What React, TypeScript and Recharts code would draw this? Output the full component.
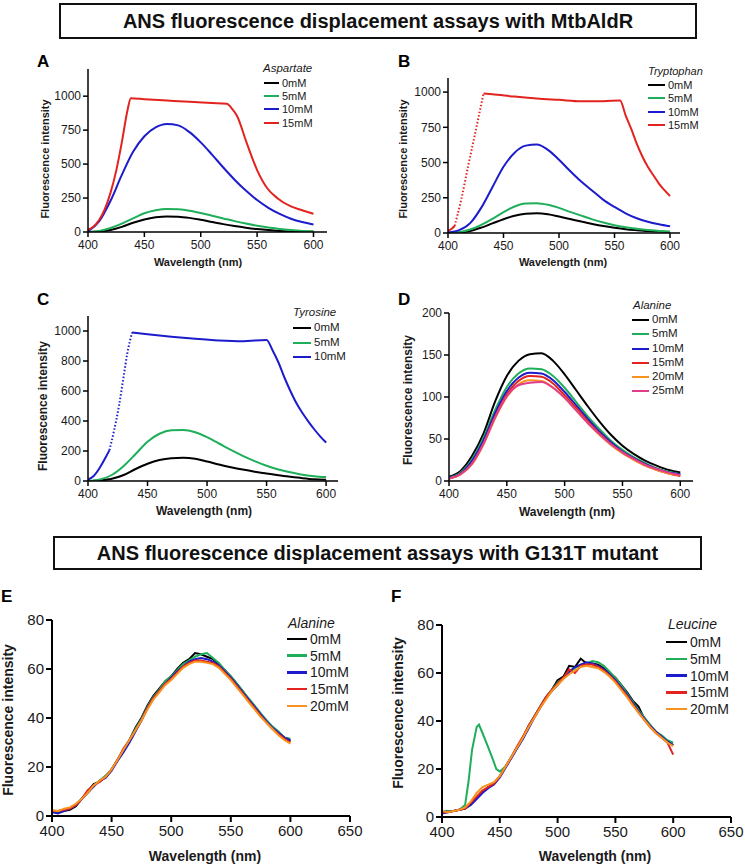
import React from "react";
import { LineChart, Line, XAxis, YAxis } from "recharts";

const font = "'Liberation Sans', Arial, Helvetica, sans-serif";

const BLACK = "#000000";
const GREEN = "#1fae5a";
const BLUE = "#1c1ccc";
const RED = "#e2231f";
const ORANGE = "#f7931e";
const PINK = "#e23c8c";

// wavelength grids (nm)
const wl10 = [400, 410, 420, 430, 440, 450, 460, 470, 480, 490, 500, 510, 520, 530, 540, 550, 560, 570, 580, 590, 600];
const wl5 = [
  400, 405, 410, 415, 420, 425, 430, 435, 440, 445,
  450, 455, 460, 465, 470, 475, 480, 485, 490, 495,
  500, 505, 510, 515, 520, 525, 530, 535, 540, 545,
  550, 555, 560, 565, 570, 575, 580, 585, 590, 595,
  600,
];

// A - Aspartate
const aspBlack = [0, 3, 15, 38, 68, 92, 108, 115, 113, 104, 90, 74, 58, 44, 32, 22, 14, 8, 4, 2, 1];
const aspGreen = [0, 8, 30, 62, 100, 138, 160, 170, 167, 157, 140, 120, 100, 80, 62, 46, 33, 22, 14, 8, 5];
const aspBlue = [5, 80, 230, 420, 590, 705, 770, 795, 785, 735, 660, 570, 475, 385, 305, 235, 178, 133, 98, 73, 55];
const aspRedWl = [400, 405, 410, 415, 420, 425, 430, 435, 438, 450, 470, 490, 510, 523, 528, 532, 541, 550, 559, 568, 580, 590, 600];
const aspRed = [15, 40, 90, 170, 290, 450, 660, 895, 985, 978, 968, 958, 950, 944, 905, 858, 650, 456, 322, 249, 188, 160, 134];

// B - Tryptophan
const trpBlack = [0, 3, 14, 38, 68, 98, 122, 136, 140, 133, 117, 99, 81, 64, 49, 37, 27, 20, 14, 10, 7];
const trpGreen = [0, 6, 25, 58, 100, 148, 188, 209, 211, 200, 178, 150, 123, 97, 74, 55, 41, 30, 21, 15, 10];
const trpBlue = [3, 20, 70, 180, 325, 470, 570, 620, 628, 590, 520, 440, 365, 300, 235, 185, 140, 105, 80, 62, 48];
const trpRedHeadWl = [400, 403, 406];
const trpRedHead = [15, 28, 50];
const trpRedDotWl = [406, 412, 418, 424, 428, 432];
const trpRedDot = [50, 240, 470, 690, 840, 990];
const trpRedTailWl = [432, 440, 460, 480, 500, 520, 540, 555, 560, 565, 570, 575, 580, 585, 590, 595, 600];
const trpRedTail = [990, 985, 968, 955, 945, 935, 935, 941, 835, 740, 634, 545, 470, 410, 351, 304, 262];

// C - Tyrosine
const tyrBlack = [0, 4, 15, 40, 80, 115, 140, 152, 155, 148, 130, 110, 92, 76, 62, 50, 38, 28, 19, 12, 9];
const tyrGreen = [0, 10, 40, 100, 180, 262, 315, 338, 340, 325, 292, 250, 207, 168, 133, 102, 77, 58, 42, 32, 26];
const tyrBlueHeadWl = [400, 405, 410, 415, 418];
const tyrBlueHead = [10, 35, 90, 160, 205];
const tyrBlueDotWl = [418, 422, 426, 430, 433, 437];
const tyrBlueDot = [205, 340, 500, 700, 850, 990];
const tyrBlueTailWl = [437, 450, 470, 490, 510, 530, 550, 555, 560, 565, 570, 575, 580, 585, 590, 595, 600];
const tyrBlueTail = [990, 978, 962, 948, 937, 932, 940, 872, 790, 690, 600, 520, 455, 398, 345, 298, 256];

// D - Alanine (MtbAldR)
const alaBlack = [5, 12, 30, 57, 95, 125, 143, 151, 152, 143, 127, 108, 89, 71, 55, 42, 32, 24, 18, 13, 10];
const alaGreen = [4, 10, 26, 52, 85, 112, 128, 134, 133, 125, 111, 94, 77, 62, 48, 37, 28, 21, 15, 11, 8];
const alaBlue = [4, 9, 24, 49, 81, 107, 123, 129, 128, 120, 106, 90, 74, 59, 46, 35, 27, 20, 14, 10, 8];
const alaRed = [3, 8, 21, 45, 77, 103, 119, 125, 124, 116, 102, 87, 71, 57, 44, 34, 26, 19, 13, 9, 6];
const alaOrange = [3, 8, 20, 44, 75, 100, 115, 120, 119, 111, 99, 84, 69, 55, 43, 33, 25, 18, 13, 9, 7];
const alaPink = [3, 8, 21, 45, 76, 101, 114, 117, 118, 111, 99, 84, 69, 56, 44, 34, 26, 19, 14, 10, 7];

// E - Alanine (G131T)
const mutAla0 = [
  2, 1.5, 2, 2.5, 4, 7, 10, 13, 14, 16,
  19, 23, 27, 31, 36, 40, 45, 49, 52, 55,
  57, 60, 62.5, 64, 66.5, 66, 65, 64, 62, 59.5,
  57, 54, 51, 47.5, 44.5, 41.5, 39, 36, 34, 32,
  30.5,
];
const mutAla5 = [
  1.5, 2, 2.5, 3, 4.5, 7, 9.5, 12.5, 14.5, 16.5,
  19, 23, 27, 31, 35.5, 39.5, 44.5, 48.5, 51.5, 55,
  57, 59.5, 62, 63.5, 65, 66, 66.5, 64.5, 62.5, 59.5,
  57, 54, 51, 48, 45, 42, 39, 36.5, 34.5, 32,
  31.5,
];
const mutAla10 = [
  1.5, 1, 2, 3, 4.5, 7, 9.5, 12, 14.5, 15.5,
  18.5, 22.5, 26, 30, 34.5, 39, 44, 48, 51, 54,
  56.5, 59, 61, 63, 64, 64.5, 64, 63, 61.5, 59,
  56.5, 53.5, 50.5, 47.5, 44.5, 41.5, 38.5, 36, 34, 32,
  31,
];
const mutAla15 = [
  2, 2, 2.5, 3, 4.5, 7, 10.5, 12.5, 14, 16,
  19, 23, 27.5, 31, 35, 39, 44, 48, 51, 54,
  56, 58.5, 61, 62.5, 63.5, 63.5, 63, 62.5, 61, 58.5,
  56, 53, 50, 47, 44, 41, 38, 35.5, 33.5, 31.5,
  30,
];
const mutAla20 = [
  2.5, 2, 3, 3.5, 5, 7, 9.5, 12.5, 14.5, 16,
  19, 23, 27, 31, 35, 39, 43.5, 47.5, 50.5, 53.5,
  55.5, 58, 60.5, 62, 63, 63, 62.5, 62, 60.5, 58,
  55.5, 52.5, 49.5, 46.5, 43.5, 40.5, 38, 35.5, 33, 31,
  29.5,
];

// F - Leucine (G131T)
const leu0 = [
  2, 2.5, 2.5, 3, 3.5, 5.5, 8, 10.5, 12.5, 14,
  17, 21, 25, 29, 33, 38, 42, 46, 50, 53,
  57, 58.5, 63, 62.5, 66, 64, 64, 63.5, 62, 60,
  58, 55, 52, 48.5, 46, 41, 38, 35.5, 33.5, 31.5,
  30,
];
const leu5Wl = [
  400, 405, 410, 415, 420, 423, 426, 430, 432, 435, 440, 444, 447, 450,
  455, 460, 465, 470, 475, 480, 485, 490, 495, 500,
  505, 510, 515, 520, 525, 530, 535, 540, 545, 550,
  555, 560, 565, 570, 575, 580, 585, 590, 595, 600,
];
const leu5 = [
  2, 2.5, 2.5, 3, 5, 15, 28, 37.5, 38.5, 35, 29, 24, 20, 19,
  21, 25, 29, 33, 38, 42, 46, 50, 53, 56,
  58, 60.5, 62, 63.5, 64, 65, 64.5, 63, 60.5, 58,
  55, 51.5, 48, 44.5, 41.5, 38.5, 35.5, 34, 32, 31,
];
const leu10 = [
  1.5, 2, 2.5, 3, 3.5, 5, 7.5, 10, 12, 13.5,
  16.5, 20.5, 24.5, 28.5, 32.5, 37, 41.5, 45.5, 49.5, 52.5,
  55, 58, 60.5, 62.5, 63.5, 64.5, 64, 63, 61.5, 59.5,
  57, 54, 51, 47.5, 44, 41, 38, 35.5, 33.5, 31.5,
  30,
];
const leu15 = [
  2, 2, 2.5, 3, 3.5, 6, 8.5, 11, 12.5, 14,
  17, 21, 25, 29.5, 33.5, 38, 42, 46, 50, 53,
  55.5, 58, 61.5, 60, 63, 63.5, 63.5, 62.5, 61, 59,
  56.5, 53.5, 50.5, 47, 43.5, 40.5, 37.5, 35, 33, 31,
  26,
];
const leu20 = [
  2.5, 2, 2.5, 3, 4, 6.5, 10, 12.5, 13.5, 14.5,
  17, 21, 25, 29, 33, 37.5, 41.5, 45.5, 49, 52.5,
  55, 57.5, 59.5, 61, 62.5, 63, 62.5, 62, 60.5, 58.5,
  56, 53, 50, 46.5, 43.5, 40.5, 37.5, 35, 33, 31,
  29.5,
];

const xTicksShort = [400, 450, 500, 550, 600];
const xTicksLong = [400, 450, 500, 550, 600, 650];

type Series = { wl: number[]; y: number[]; color: string; dotted?: boolean };

function toPoints(wl: number[], y: number[]) {
  return wl.map((w, i) => ({ wl: w, y: y[i] }));
}

type PanelProps = {
  plotLeft: number;
  plotTop: number;
  plotW: number;
  plotH: number;
  yAxisW: number;
  xDomain: [number, number];
  xTicks: number[];
  yDomain: [number, number];
  yTicks: number[];
  series: Series[];
  tickSize: number;
  fontSize: number;
  axisWidth: number;
  curve: "monotone" | "linear";
};

function Panel(p: PanelProps) {
  const top = 10;
  const right = 16;
  const bottom = 44;
  const tickStyle = { fill: "#1a1a1a", fontSize: p.fontSize, fontFamily: font };
  const axisStyle = { stroke: "#000", strokeWidth: p.axisWidth };
  return (
    <div style={{ position: "absolute", left: p.plotLeft - p.yAxisW, top: p.plotTop - top }}>
      <LineChart
        width={p.yAxisW + p.plotW + right}
        height={top + p.plotH + bottom}
        margin={{ top, right, bottom: 0, left: 0 }}
      >
        <XAxis
          dataKey="wl"
          type="number"
          domain={p.xDomain}
          ticks={p.xTicks}
          interval={0}
          height={bottom}
          tick={tickStyle}
          tickSize={p.tickSize}
          tickMargin={3}
          axisLine={axisStyle}
          tickLine={axisStyle}
          allowDataOverflow
        />
        <YAxis
          type="number"
          domain={p.yDomain}
          ticks={p.yTicks}
          interval={0}
          width={p.yAxisW}
          tick={tickStyle}
          tickSize={p.tickSize}
          tickMargin={2}
          axisLine={axisStyle}
          tickLine={axisStyle}
          allowDataOverflow
        />
        {p.series.map((s, i) => (
          <Line
            key={i}
            data={toPoints(s.wl, s.y)}
            dataKey="y"
            type={p.curve}
            stroke={s.color}
            strokeWidth={2}
            strokeDasharray={s.dotted ? "1.5 2" : undefined}
            dot={false}
            activeDot={false}
            isAnimationActive={false}
          />
        ))}
      </LineChart>
    </div>
  );
}

type LegendProps = {
  title: string;
  titleX: number;
  titleY: number;
  lineX0: number;
  lineX1: number;
  textX: number;
  rowY: number;
  gap: number;
  size: number;
  titleSize: number;
  thick: number;
  items: { label: string; color: string }[];
};

function PanelLegend(l: LegendProps) {
  return (
    <>
      <div
        style={{
          position: "absolute",
          left: l.titleX,
          top: l.titleY,
          transform: "translateY(-50%)",
          fontSize: l.titleSize,
          fontStyle: "italic",
          lineHeight: 1,
          whiteSpace: "nowrap",
          color: "#1a1a1a",
        }}
      >
        {l.title}
      </div>
      {l.items.map((it, i) => (
        <React.Fragment key={it.label}>
          <div
            style={{
              position: "absolute",
              left: l.lineX0,
              top: l.rowY + i * l.gap - l.thick / 2,
              width: l.lineX1 - l.lineX0,
              height: l.thick,
              background: it.color,
            }}
          />
          <div
            style={{
              position: "absolute",
              left: l.textX,
              top: l.rowY + i * l.gap,
              transform: "translateY(-50%)",
              fontSize: l.size,
              lineHeight: 1,
              whiteSpace: "nowrap",
              color: "#1a1a1a",
            }}
          >
            {it.label}
          </div>
        </React.Fragment>
      ))}
    </>
  );
}

function AxisTitle({ x, y, size, vertical, children }: { x: number; y: number; size: number; vertical?: boolean; children: React.ReactNode }) {
  return (
    <div
      style={{
        position: "absolute",
        left: x,
        top: y,
        transform: `translate(-50%, -50%)${vertical ? " rotate(-90deg)" : ""}`,
        fontSize: size,
        fontWeight: "bold",
        lineHeight: 1,
        whiteSpace: "nowrap",
        color: "#1a1a1a",
      }}
    >
      {children}
    </div>
  );
}

function Letter({ x, y, children }: { x: number; y: number; children: React.ReactNode }) {
  return (
    <div style={{ position: "absolute", left: x, top: y, fontSize: 17, fontWeight: "bold", lineHeight: 1 }}>
      {children}
    </div>
  );
}

function TitleBox({ left, top, width, height, children }: { left: number; top: number; width: number; height: number; children: React.ReactNode }) {
  return (
    <div
      style={{
        position: "absolute",
        left,
        top,
        width,
        height,
        boxSizing: "border-box",
        border: "2px solid #111",
        display: "flex",
        alignItems: "center",
        justifyContent: "center",
        fontSize: 20,
        fontWeight: "bold",
        color: "#111",
      }}
    >
      {children}
    </div>
  );
}

const conc4 = ["0mM", "5mM", "10mM", "15mM"];
const conc3 = ["0mM", "5mM", "10mM"];
const conc6 = ["0mM", "5mM", "10mM", "15mM", "20mM", "25mM"];
const conc5 = ["0mM", "5mM", "10mM", "15mM", "20mM"];
const colors6 = [BLACK, GREEN, BLUE, RED, ORANGE, PINK];

const legendItems = (labels: string[]) => labels.map((label, i) => ({ label, color: colors6[i] }));

export default function App() {
  return (
    <div
      style={{
        position: "absolute",
        left: 0,
        top: 0,
        width: 745,
        height: 865,
        background: "#fff",
        fontFamily: font,
        overflow: "hidden",
      }}
    >
      <TitleBox left={59} top={3} width={638} height={36}>
        ANS fluorescence displacement assays with MtbAldR
      </TitleBox>
      <TitleBox left={53} top={536} width={649} height={34}>
        ANS fluorescence displacement assays with G131T mutant
      </TitleBox>

      <Letter x={37} y={53}>A</Letter>
      <Letter x={398} y={53}>B</Letter>
      <Letter x={37} y={291}>C</Letter>
      <Letter x={398} y={291}>D</Letter>
      <Letter x={1} y={588}>E</Letter>
      <Letter x={391} y={588}>F</Letter>

      {/* A */}
      <Panel
        plotLeft={88}
        plotTop={69}
        plotW={239}
        plotH={163}
        yAxisW={60}
        xDomain={[400, 612]}
        xTicks={xTicksShort}
        yDomain={[0, 1200]}
        yTicks={[0, 250, 500, 750, 1000]}
        tickSize={5}
        fontSize={12}
        axisWidth={1.5}
        curve="monotone"
        series={[
          { wl: wl10, y: aspBlack, color: BLACK },
          { wl: wl10, y: aspGreen, color: GREEN },
          { wl: wl10, y: aspBlue, color: BLUE },
          { wl: aspRedWl, y: aspRed, color: RED },
        ]}
      />
      <PanelLegend
        title="Aspartate"
        titleX={263}
        titleY={69}
        lineX0={264}
        lineX1={279}
        textX={282}
        rowY={83}
        gap={13.2}
        size={11}
        titleSize={11.5}
        thick={2}
        items={legendItems(conc4)}
      />
      <AxisTitle x={45} y={159} size={11} vertical>Fluorescence intensity</AxisTitle>
      <AxisTitle x={198} y={262} size={11}>Wavelength (nm)</AxisTitle>

      {/* B */}
      <Panel
        plotLeft={448}
        plotTop={78}
        plotW={232}
        plotH={155}
        yAxisW={60}
        xDomain={[400, 609]}
        xTicks={xTicksShort}
        yDomain={[0, 1100]}
        yTicks={[0, 250, 500, 750, 1000]}
        tickSize={5}
        fontSize={12}
        axisWidth={1.5}
        curve="monotone"
        series={[
          { wl: wl10, y: trpBlack, color: BLACK },
          { wl: wl10, y: trpGreen, color: GREEN },
          { wl: wl10, y: trpBlue, color: BLUE },
          { wl: trpRedHeadWl, y: trpRedHead, color: RED },
          { wl: trpRedDotWl, y: trpRedDot, color: RED, dotted: true },
          { wl: trpRedTailWl, y: trpRedTail, color: RED },
        ]}
      />
      <PanelLegend
        title="Tryptophan"
        titleX={648}
        titleY={71}
        lineX0={648}
        lineX1={665}
        textX={668}
        rowY={85}
        gap={13.4}
        size={11}
        titleSize={11}
        thick={2}
        items={legendItems(conc4)}
      />
      <AxisTitle x={403} y={159} size={11} vertical>Fluorescence intensity</AxisTitle>
      <AxisTitle x={563} y={262} size={11}>Wavelength (nm)</AxisTitle>

      {/* C */}
      <Panel
        plotLeft={88}
        plotTop={316}
        plotW={250}
        plotH={165}
        yAxisW={60}
        xDomain={[400, 610]}
        xTicks={xTicksShort}
        yDomain={[0, 1100]}
        yTicks={[0, 200, 400, 600, 800, 1000]}
        tickSize={5}
        fontSize={12}
        axisWidth={1.5}
        curve="monotone"
        series={[
          { wl: wl10, y: tyrBlack, color: BLACK },
          { wl: wl10, y: tyrGreen, color: GREEN },
          { wl: tyrBlueHeadWl, y: tyrBlueHead, color: BLUE },
          { wl: tyrBlueDotWl, y: tyrBlueDot, color: BLUE, dotted: true },
          { wl: tyrBlueTailWl, y: tyrBlueTail, color: BLUE },
        ]}
      />
      <PanelLegend
        title="Tyrosine"
        titleX={293}
        titleY={313}
        lineX0={293}
        lineX1={311}
        textX={314}
        rowY={328}
        gap={14.5}
        size={11.5}
        titleSize={11.5}
        thick={2}
        items={legendItems(conc3)}
      />
      <AxisTitle x={43} y={406} size={12} vertical>Fluorescence intensity</AxisTitle>
      <AxisTitle x={204} y={511} size={12}>Wavelength (nm)</AxisTitle>

      {/* D */}
      <Panel
        plotLeft={449}
        plotTop={313}
        plotW={244}
        plotH={168}
        yAxisW={60}
        xDomain={[400, 611]}
        xTicks={xTicksShort}
        yDomain={[0, 200]}
        yTicks={[0, 50, 100, 150, 200]}
        tickSize={5}
        fontSize={12}
        axisWidth={1.5}
        curve="monotone"
        series={[
          { wl: wl10, y: alaBlack, color: BLACK },
          { wl: wl10, y: alaGreen, color: GREEN },
          { wl: wl10, y: alaBlue, color: BLUE },
          { wl: wl10, y: alaRed, color: RED },
          { wl: wl10, y: alaOrange, color: ORANGE },
          { wl: wl10, y: alaPink, color: PINK },
        ]}
      />
      <PanelLegend
        title="Alanine"
        titleX={633}
        titleY={306}
        lineX0={632}
        lineX1={649}
        textX={652}
        rowY={320}
        gap={14.25}
        size={11.5}
        titleSize={11.5}
        thick={2}
        items={legendItems(conc6)}
      />
      <AxisTitle x={408} y={400} size={12} vertical>Fluorescence intensity</AxisTitle>
      <AxisTitle x={567} y={512} size={12}>Wavelength (nm)</AxisTitle>

      {/* E */}
      <Panel
        plotLeft={52}
        plotTop={620}
        plotW={298}
        plotH={196}
        yAxisW={45}
        xDomain={[400, 650]}
        xTicks={xTicksLong}
        yDomain={[0, 80]}
        yTicks={[0, 20, 40, 60, 80]}
        tickSize={6}
        fontSize={15}
        axisWidth={2}
        curve="linear"
        series={[
          { wl: wl5, y: mutAla0, color: BLACK },
          { wl: wl5, y: mutAla5, color: GREEN },
          { wl: wl5, y: mutAla10, color: BLUE },
          { wl: wl5, y: mutAla15, color: RED },
          { wl: wl5, y: mutAla20, color: ORANGE },
        ]}
      />
      <PanelLegend
        title="Alanine"
        titleX={288}
        titleY={623}
        lineX0={287}
        lineX1={307}
        textX={310}
        rowY={639}
        gap={16.7}
        size={14}
        titleSize={14}
        thick={2.5}
        items={legendItems(conc5)}
      />
      <AxisTitle x={8} y={720} size={14} vertical>Fluorescence intensity</AxisTitle>
      <AxisTitle x={205} y={856} size={14}>Wavelength (nm)</AxisTitle>

      {/* F */}
      <Panel
        plotLeft={442}
        plotTop={625}
        plotW={289}
        plotH={192}
        yAxisW={45}
        xDomain={[400, 650]}
        xTicks={xTicksLong}
        yDomain={[0, 80]}
        yTicks={[0, 20, 40, 60, 80]}
        tickSize={6}
        fontSize={15}
        axisWidth={2}
        curve="linear"
        series={[
          { wl: wl5, y: leu0, color: BLACK },
          { wl: leu5Wl, y: leu5, color: GREEN },
          { wl: wl5, y: leu10, color: BLUE },
          { wl: wl5, y: leu15, color: RED },
          { wl: wl5, y: leu20, color: ORANGE },
        ]}
      />
      <PanelLegend
        title="Leucine"
        titleX={668}
        titleY={624}
        lineX0={666}
        lineX1={687}
        textX={690}
        rowY={642}
        gap={16.8}
        size={14}
        titleSize={14}
        thick={2.5}
        items={legendItems(conc5)}
      />
      <AxisTitle x={398} y={713} size={14} vertical>Fluorescence intensity</AxisTitle>
      <AxisTitle x={595} y={856} size={14}>Wavelength (nm)</AxisTitle>
    </div>
  );
}
